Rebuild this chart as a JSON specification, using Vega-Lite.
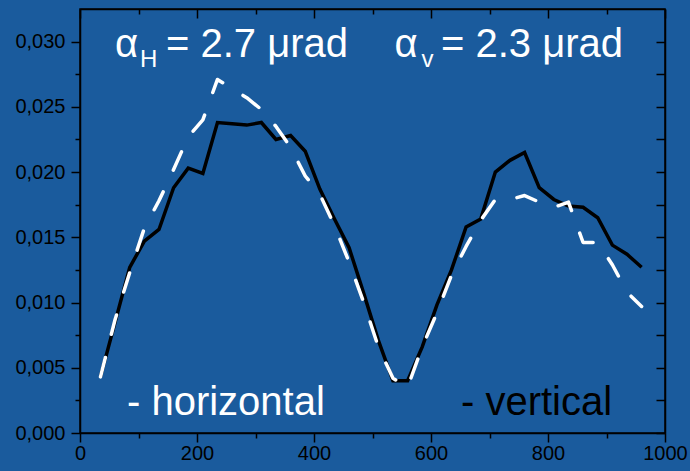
{
  "$schema": "https://vega.github.io/schema/vega-lite/v6.json",
  "width": 585,
  "height": 424,
  "autosize": {"type": "none"},
  "padding": {"left": 80, "top": 9, "right": 25, "bottom": 38},
  "background": "#1a5b9d",
  "config": {
    "view": {"stroke": "black", "strokeWidth": 1.5, "fill": "#1a5b9d"},
    "font": "Liberation Sans",
    "axis": {
      "grid": false,
      "domainColor": "black",
      "domainWidth": 1.5,
      "tickColor": "black",
      "tickWidth": 1.5,
      "labelColor": "black",
      "labelFont": "Liberation Sans",
      "labelFontSize": 20,
      "title": null
    }
  },
  "datasets": {
    "curves": [
      {"x": 35, "y": 0.0043, "s": "vertical"}, {"x": 60, "y": 0.0085, "s": "vertical"}, {"x": 85, "y": 0.0127, "s": "vertical"}, {"x": 110, "y": 0.0147, "s": "vertical"},
      {"x": 135, "y": 0.0156, "s": "vertical"}, {"x": 160, "y": 0.0188, "s": "vertical"}, {"x": 185, "y": 0.0203, "s": "vertical"}, {"x": 210, "y": 0.0199, "s": "vertical"},
      {"x": 235, "y": 0.0238, "s": "vertical"}, {"x": 260, "y": 0.0237, "s": "vertical"}, {"x": 285, "y": 0.0236, "s": "vertical"}, {"x": 310, "y": 0.0238, "s": "vertical"},
      {"x": 335, "y": 0.0225, "s": "vertical"}, {"x": 360, "y": 0.0228, "s": "vertical"}, {"x": 385, "y": 0.0216, "s": "vertical"}, {"x": 410, "y": 0.0187, "s": "vertical"},
      {"x": 435, "y": 0.0164, "s": "vertical"}, {"x": 460, "y": 0.0142, "s": "vertical"}, {"x": 485, "y": 0.0107, "s": "vertical"}, {"x": 510, "y": 0.0071, "s": "vertical"},
      {"x": 535, "y": 0.0040, "s": "vertical"}, {"x": 560, "y": 0.0040, "s": "vertical"}, {"x": 585, "y": 0.0066, "s": "vertical"}, {"x": 610, "y": 0.0098, "s": "vertical"},
      {"x": 635, "y": 0.0125, "s": "vertical"}, {"x": 660, "y": 0.0158, "s": "vertical"}, {"x": 685, "y": 0.0164, "s": "vertical"}, {"x": 710, "y": 0.0200, "s": "vertical"},
      {"x": 735, "y": 0.0209, "s": "vertical"}, {"x": 760, "y": 0.0215, "s": "vertical"}, {"x": 785, "y": 0.0188, "s": "vertical"}, {"x": 810, "y": 0.0179, "s": "vertical"},
      {"x": 835, "y": 0.0174, "s": "vertical"}, {"x": 860, "y": 0.0173, "s": "vertical"}, {"x": 885, "y": 0.0165, "s": "vertical"}, {"x": 910, "y": 0.0144, "s": "vertical"},
      {"x": 935, "y": 0.0137, "s": "vertical"}, {"x": 960, "y": 0.0127, "s": "vertical"},
      {"x": 35, "y": 0.0043, "s": "horizontal"}, {"x": 60, "y": 0.0087, "s": "horizontal"}, {"x": 85, "y": 0.0123, "s": "horizontal"}, {"x": 110, "y": 0.0157, "s": "horizontal"},
      {"x": 135, "y": 0.0178, "s": "horizontal"}, {"x": 160, "y": 0.0202, "s": "horizontal"}, {"x": 185, "y": 0.0227, "s": "horizontal"}, {"x": 210, "y": 0.0240, "s": "horizontal"},
      {"x": 235, "y": 0.0271, "s": "horizontal"}, {"x": 260, "y": 0.0264, "s": "horizontal"}, {"x": 285, "y": 0.0257, "s": "horizontal"}, {"x": 310, "y": 0.0248, "s": "horizontal"},
      {"x": 335, "y": 0.0235, "s": "horizontal"}, {"x": 360, "y": 0.0219, "s": "horizontal"}, {"x": 385, "y": 0.0197, "s": "horizontal"}, {"x": 410, "y": 0.0183, "s": "horizontal"},
      {"x": 435, "y": 0.0159, "s": "horizontal"}, {"x": 460, "y": 0.0131, "s": "horizontal"}, {"x": 485, "y": 0.0100, "s": "horizontal"}, {"x": 510, "y": 0.0066, "s": "horizontal"},
      {"x": 535, "y": 0.0042, "s": "horizontal"}, {"x": 560, "y": 0.0035, "s": "horizontal"}, {"x": 585, "y": 0.0066, "s": "horizontal"}, {"x": 610, "y": 0.0092, "s": "horizontal"},
      {"x": 635, "y": 0.0121, "s": "horizontal"}, {"x": 660, "y": 0.0143, "s": "horizontal"}, {"x": 685, "y": 0.0163, "s": "horizontal"}, {"x": 710, "y": 0.0179, "s": "horizontal"},
      {"x": 735, "y": 0.0179, "s": "horizontal"}, {"x": 760, "y": 0.0182, "s": "horizontal"}, {"x": 785, "y": 0.0177, "s": "horizontal"}, {"x": 810, "y": 0.0173, "s": "horizontal"},
      {"x": 835, "y": 0.0177, "s": "horizontal"}, {"x": 860, "y": 0.0146, "s": "horizontal"}, {"x": 885, "y": 0.0146, "s": "horizontal"}, {"x": 910, "y": 0.0129, "s": "horizontal"},
      {"x": 935, "y": 0.0108, "s": "horizontal"}, {"x": 960, "y": 0.0097, "s": "horizontal"}
    ],
    "labels": [
      {"x": 59.8, "y": 0.02883, "t": "α", "g": "big"},
      {"x": 102.6, "y": 0.02809, "t": "H", "g": "sub"},
      {"x": 147.0, "y": 0.02883, "t": "= 2.7 μrad", "g": "big"},
      {"x": 537.6, "y": 0.02883, "t": "α", "g": "big"},
      {"x": 583.8, "y": 0.02809, "t": "v", "g": "sub"},
      {"x": 617.1, "y": 0.02883, "t": "= 2.3 μrad", "g": "big"},
      {"x": 80.3, "y": 0.00138, "t": "- horizontal", "g": "legw"},
      {"x": 651.3, "y": 0.00138, "t": "- vertical", "g": "legb"}
    ]
  },
  "layer": [
    {
      "data": {"name": "curves"},
      "transform": [{"filter": "datum.s === 'vertical'"}],
      "mark": {"type": "line", "color": "black", "strokeWidth": 3.5, "strokeJoin": "miter", "strokeCap": "butt"},
      "encoding": {
        "x": {"field": "x", "type": "quantitative", "scale": {"domain": [0, 1000], "nice": false},
          "axis": {"orient": "bottom", "values": [0, 100, 200, 300, 400, 500, 600, 700, 800, 900, 1000],
            "labelExpr": "datum.value % 200 === 0 ? format(datum.value, 'd') : ''",
            "tickSize": {"condition": {"test": "datum.value % 200 === 0", "value": 9}, "value": 5},
            "labelPadding": 1, "labelFlush": false, "labelOverlap": false}},
        "y": {"field": "y", "type": "quantitative", "scale": {"domain": [0, 0.0325], "nice": false, "zero": false},
          "axis": {"orient": "left", "values": [0, 0.0025, 0.005, 0.0075, 0.01, 0.0125, 0.015, 0.0175, 0.02, 0.0225, 0.025, 0.0275, 0.03],
            "labelExpr": "round(datum.value*2000) % 10 === 0 ? replace(format(datum.value, '.3f'), '.', ',') : ''",
            "tickSize": {"condition": {"test": "round(datum.value*2000) % 10 === 0", "value": 9}, "value": 5},
            "labelPadding": 6, "labelFlush": false, "labelOverlap": false}}
      }
    },
    {
      "data": {"name": "curves"},
      "transform": [{"filter": "datum.s === 'horizontal'"}],
      "mark": {"type": "line", "color": "white", "strokeWidth": 3.5, "strokeDash": [20, 24], "strokeCap": "round", "strokeJoin": "round"},
      "encoding": {
        "x": {"field": "x", "type": "quantitative",
          "axis": {"orient": "top", "values": [0, 100, 200, 300, 400, 500, 600, 700, 800, 900, 1000], "labels": false,
            "tickSize": {"condition": {"test": "datum.value % 200 === 0", "value": -9}, "value": -5}}},
        "y": {"field": "y", "type": "quantitative",
          "axis": {"orient": "right", "values": [0, 0.0025, 0.005, 0.0075, 0.01, 0.0125, 0.015, 0.0175, 0.02, 0.0225, 0.025, 0.0275, 0.03], "labels": false,
            "tickSize": -9}}
      }
    },
    {
      "data": {"name": "labels"},
      "transform": [{"filter": "datum.g === 'big'"}],
      "mark": {"type": "text", "align": "left", "baseline": "alphabetic", "color": "white", "fontSize": 40, "font": "Liberation Sans"},
      "encoding": {
        "x": {"field": "x", "type": "quantitative", "axis": null},
        "y": {"field": "y", "type": "quantitative", "axis": null},
        "text": {"field": "t"}
      }
    },
    {
      "data": {"name": "labels"},
      "transform": [{"filter": "datum.g === 'sub'"}],
      "mark": {"type": "text", "align": "left", "baseline": "alphabetic", "color": "white", "fontSize": 24, "font": "Liberation Sans"},
      "encoding": {
        "x": {"field": "x", "type": "quantitative", "axis": null},
        "y": {"field": "y", "type": "quantitative", "axis": null},
        "text": {"field": "t"}
      }
    },
    {
      "data": {"name": "labels"},
      "transform": [{"filter": "datum.g === 'legw' || datum.g === 'legb'"}],
      "mark": {"type": "text", "align": "left", "baseline": "alphabetic", "fontSize": 40, "font": "Liberation Sans"},
      "encoding": {
        "x": {"field": "x", "type": "quantitative", "axis": null},
        "y": {"field": "y", "type": "quantitative", "axis": null},
        "text": {"field": "t"},
        "color": {"field": "g", "type": "nominal", "scale": {"domain": ["legw", "legb"], "range": ["white", "black"]}, "legend": null}
      }
    }
  ],
  "resolve": {"axis": {"x": "independent", "y": "independent"}}
}
